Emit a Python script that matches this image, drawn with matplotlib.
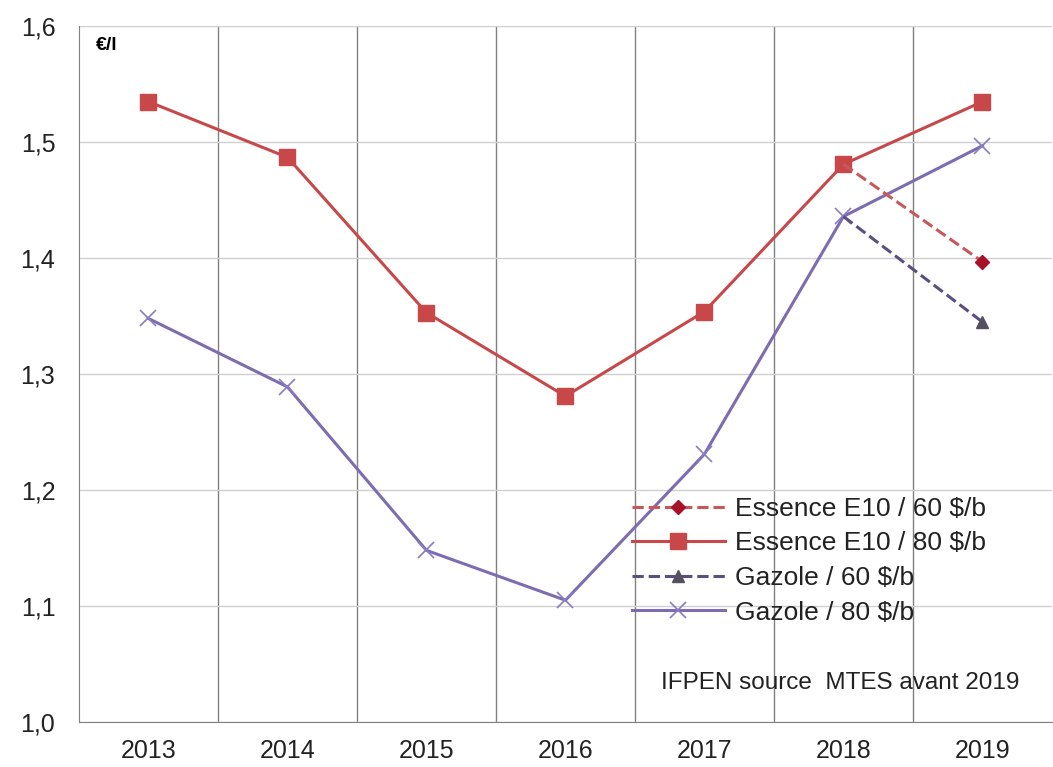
import numpy as np
import matplotlib.pyplot as plt
from matplotlib.ticker import FixedLocator, FuncFormatter

plt.rcParams['font.family'] = ['Liberation Sans', 'DejaVu Sans']

annees = ['2013', '2014', '2015', '2016', '2017', '2018', '2019']
essence_80 = [1.535, 1.487, 1.353, 1.281, 1.354, 1.481, 1.535]
gazole_80 = [1.348, 1.289, 1.148, 1.105, 1.231, 1.436, 1.497]
essence_60 = [1.481, 1.397]   # 2018 -> 2019
gazole_60 = [1.436, 1.345]

x = np.arange(len(annees))
x60 = x[-2:]

fig = plt.figure(figsize=(10.53, 7.67), dpi=100)
ax = fig.add_axes([0.075, 0.0587, 0.924, 0.907])

ax.plot(x60, essence_60, ls='--', color='#c8575a', lw=2.2, marker='D', ms=7,
        mfc='#a8102a', mec='#a8102a', markevery=[1], label='Essence E10 / 60 $/b', zorder=4)
ax.plot(x, essence_80, ls='-', color='#c8484a', lw=2.2, marker='s', ms=11,
        mfc='#c8484a', mec='#c8484a', label='Essence E10 / 80 $/b', zorder=3)
ax.plot(x60, gazole_60, ls='--', color='#5b4f82', lw=2.2, marker='^', ms=9,
        mfc='#555060', mec='#555060', markevery=[1], label='Gazole / 60 $/b', zorder=4)
ax.plot(x, gazole_80, ls='-', color='#7d6db0', lw=2.2, marker='x', ms=11, mew=1.2,
        mec='#8a7cc0', label='Gazole / 80 $/b', zorder=3)

ax.set_xlim(-0.5, 6.5)
ax.set_ylim(1.0, 1.6)
ax.set_xticks(x)
ax.set_xticklabels(annees)
ax.set_yticks(np.arange(1.0, 1.61, 0.1))
ax.yaxis.set_major_formatter(FuncFormatter(lambda v, p: ('%.1f' % v).replace('.', ',')))
ax.tick_params(axis='both', length=0, labelsize=18, colors='#222222')
ax.tick_params(axis='y', pad=17)
ax.tick_params(axis='x', pad=12)

ax.grid(axis='y', color='#d0d0d0', lw=1)
ax.xaxis.set_minor_locator(FixedLocator(np.arange(0.5, 6.0, 1.0)))
ax.grid(axis='x', which='minor', color='#808080', lw=1)
ax.tick_params(axis='x', which='minor', length=0)

for s in ['top', 'right']:
    ax.spines[s].set_visible(False)
ax.spines['left'].set_color('#808080')
ax.spines['bottom'].set_color('#808080')

ax.text(0.017, 0.985, '€/l', transform=ax.transAxes, fontsize=14, fontweight='bold',
        va='top', ha='left')
ax.text(0.967, 0.04, 'IFPEN source  MTES avant 2019', transform=ax.transAxes,
        fontsize=17.5, ha='right', va='bottom', color='#222222')

leg = ax.legend(loc='lower left', bbox_to_anchor=(0.555, 0.121), frameon=False,
                fontsize=19, handlelength=3.5, labelspacing=0.4, handletextpad=0.4,
                borderpad=0)
for t in leg.get_texts():
    t.set_color('#222222')

fig.savefig('out.png', dpi=100)
